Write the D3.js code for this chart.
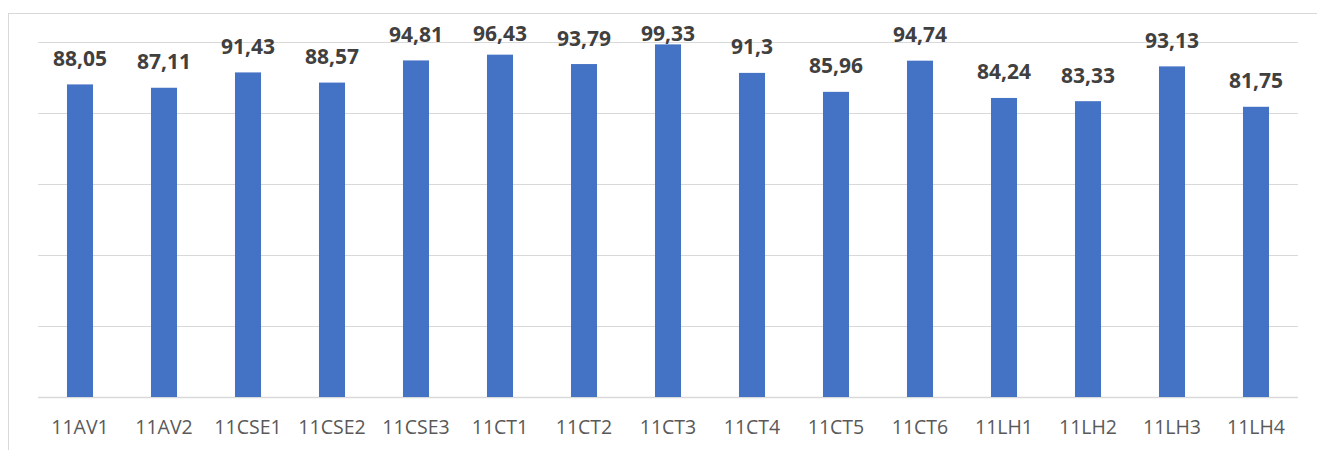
<!DOCTYPE html>
<html>
<head>
<meta charset="utf-8">
<script src="https://cdn.jsdelivr.net/npm/d3@7"></script>
<style>
  body { margin: 0; background: #fff; }
  svg { display: block; }
</style>
</head>
<body>
<svg id="chart" width="1317" height="450"></svg>
<script>
var classes = ['11AV1', '11AV2', '11CSE1', '11CSE2', '11CSE3', '11CT1', '11CT2', '11CT3', '11CT4', '11CT5', '11CT6', '11LH1', '11LH2', '11LH3', '11LH4'];
var scores = [88.05, 87.11, 91.43, 88.57, 94.81, 96.43, 93.79, 99.33, 91.3, 85.96, 94.74, 84.24, 83.33, 93.13, 81.75];
var gridTicks = [0, 20, 40, 60, 80, 100];

var svg = d3.select('#chart');

// outer frame
svg.append('rect')
  .attr('x', 8.5).attr('y', 13.5)
  .attr('width', 1320).attr('height', 450)
  .attr('fill', 'none')
  .attr('stroke', '#d9d9d9');

var x = d3.scaleBand()
  .domain(classes)
  .range([38, 1298])
  .paddingInner(0.69)
  .paddingOuter(0.345);

var y = d3.scaleLinear()
  .domain([0, 100])
  .range([397, 42]);

svg.append('g').selectAll('line')
  .data(gridTicks)
  .enter().append('line')
    .attr('x1', 38).attr('x2', 1298)
    .attr('y1', d => Math.round(y(d)) + 0.5)
    .attr('y2', d => Math.round(y(d)) + 0.5)
    .attr('stroke', '#d9d9d9')
    .attr('stroke-width', d => d === 0 ? 1.5 : 1);

svg.append('g').selectAll('rect')
  .data(scores)
  .enter().append('rect')
    .attr('x', (d, i) => x(classes[i]))
    .attr('y', d => y(d))
    .attr('width', x.bandwidth())
    .attr('height', d => y(0) - y(d))
    .attr('fill', '#4472c4');

// value labels, kept inside the chart area like Excel does
svg.append('g').selectAll('text')
  .data(scores)
  .enter().append('text')
    .attr('x', (d, i) => x(classes[i]) + x.bandwidth() / 2)
    .attr('y', d => Math.max(y(d) - 18.5, 40.5))
    .attr('text-anchor', 'middle')
    .attr('font-family', 'Open Sans, sans-serif')
    .attr('font-weight', 'bold')
    .attr('font-size', 21)
    .attr('fill', '#404040')
    .text(d => String(d).replace('.', ','));

svg.append('g').selectAll('text')
  .data(classes)
  .enter().append('text')
    .attr('x', d => x(d) + x.bandwidth() / 2)
    .attr('y', 434)
    .attr('text-anchor', 'middle')
    .attr('font-family', 'Open Sans, sans-serif')
    .attr('font-size', 19.5)
    .attr('fill', '#595959')
    .text(d => d);
</script>
</body>
</html>
